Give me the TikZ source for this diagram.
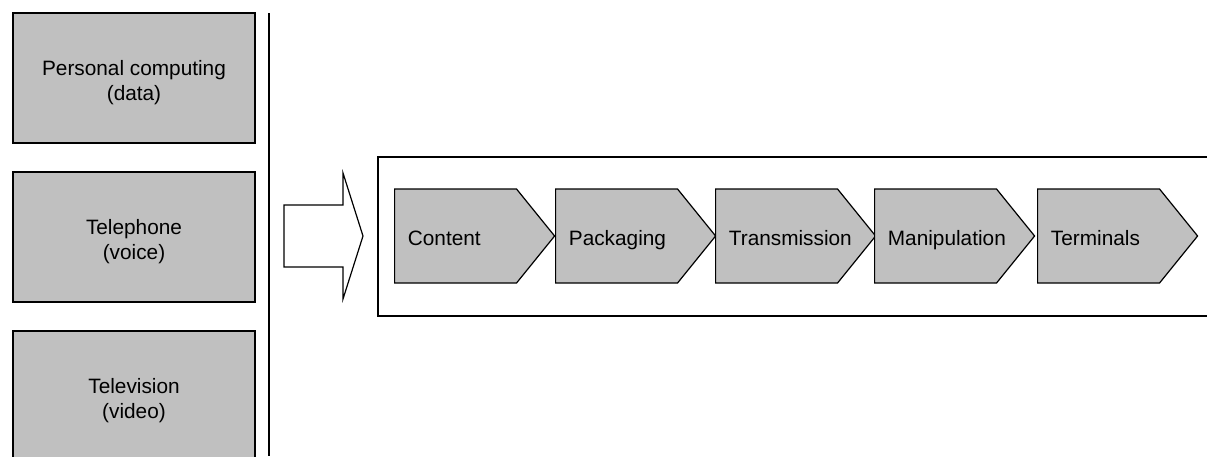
\documentclass[tikz,border=0pt]{standalone}
\usepackage{fontspec}
\setmainfont{Liberation Sans}
\usepackage{tikz}
\usetikzlibrary{shapes.symbols,calc}
\definecolor{boxgray}{HTML}{C0C0C0}
\tikzset{
    industry/.style={draw,fill=boxgray,line width=0.6pt,
        minimum width=121pt,minimum height=65pt,inner sep=0pt},
    chevron/.style={draw,fill=boxgray,line width=0.6pt,shape=signal,
        signal to=east,signal from=nowhere,signal pointer angle=102,
        minimum width=80pt,minimum height=47pt,inner sep=0pt,anchor=west}
}

\begin{document}
\begin{tikzpicture}[x=0.5pt,y=-0.5pt,font=\fontsize{10.4}{12.5}\selectfont]
      \useasboundingbox (0,0) rectangle (1207,456);
      % three converging industries
      \foreach \name/\txt/\y in {pc/{Personal computing\\(data)}/78,
            phone/{Telephone\\(voice)}/237,tv/{Television\\(video)}/396}{
         \node[industry] (\name) at (134,\y) {};
         \node[align=center,inner sep=0pt] (\name-label) at ([yshift=-2.5pt]\name.center) {\txt};
      }
      \draw[line width=0.6pt] (269,13) -- (269,456);
      % block arrow
      \draw[line width=0.6pt] (284,205) -- (343,205) -- (343,173) -- (363,236)
            -- (343,299) -- (343,267) -- (284,267) -- cycle;
      % value chain
      \draw[line width=0.6pt] (1207,157) -- (378,157) -- (378,316) -- (1207,316);
      \foreach \name/\txt/\x in {content/Content/394,packaging/Packaging/555,
            transmission/Transmission/715,manipulation/Manipulation/874,
            terminals/Terminals/1037}{
         \node[chevron] (\name) at (\x,236) {};
         \node[anchor=base west,inner sep=0pt] (\name-label) at ([xshift=6.75pt,yshift=-4.75pt]\name.west) {\txt};
      }
\end{tikzpicture}
\end{document}
